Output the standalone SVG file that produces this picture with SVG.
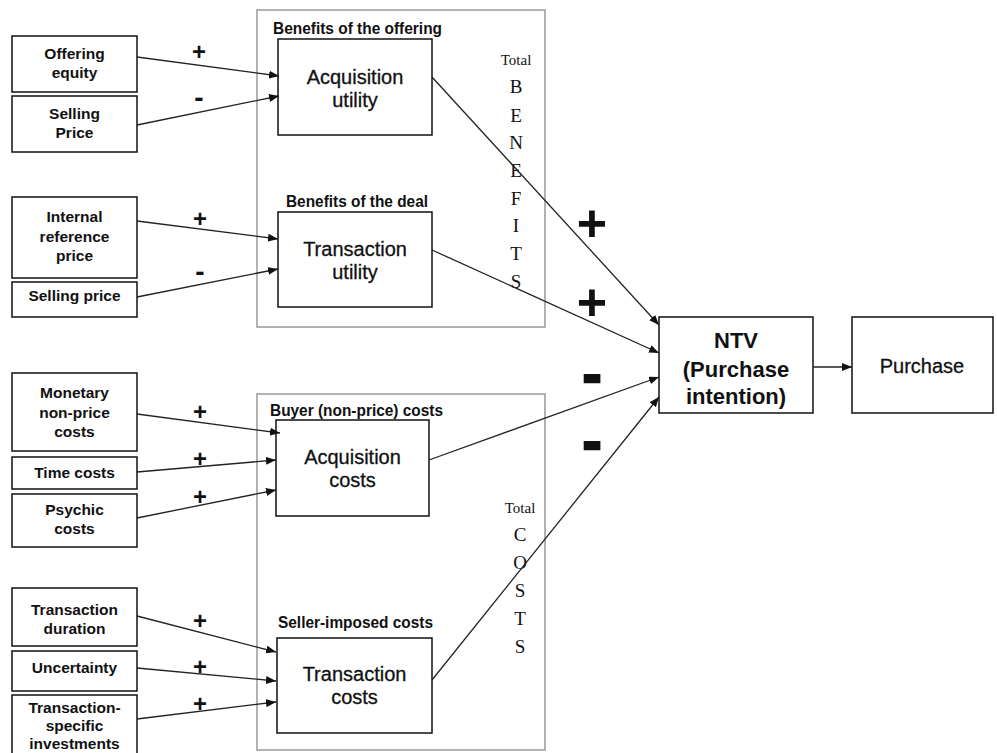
<svg xmlns="http://www.w3.org/2000/svg" width="997" height="753" viewBox="0 0 997 753">
<defs>
<marker id="ah" markerWidth="10" markerHeight="8" refX="10" refY="4" orient="auto" markerUnits="userSpaceOnUse">
<path d="M0,0 L10,4 L0,8 Z" fill="#111"/>
</marker>
<style>
.box{fill:#fff;stroke:#111;stroke-width:1.5}
.outer{fill:#fff;stroke:#999;stroke-width:1.5}
.lbl{font-family:"Liberation Sans",Arial,sans-serif;font-weight:bold;font-size:15.5px;text-anchor:middle;fill:#111}
.ttl{font-family:"Liberation Sans",Arial,sans-serif;font-weight:bold;font-size:16px;fill:#111}
.node{font-family:"Liberation Sans",Arial,sans-serif;font-size:20px;text-anchor:middle;fill:#111;stroke:#111;stroke-width:0.3}
.ntv{font-family:"Liberation Sans",Arial,sans-serif;font-weight:bold;font-size:22px;text-anchor:middle;fill:#111}
.ser{font-family:"Liberation Serif","Times New Roman",serif;text-anchor:middle;fill:#111}
.sgn{font-family:"Liberation Sans",Arial,sans-serif;font-weight:bold;text-anchor:middle;fill:#111}
.big{stroke:#111;stroke-width:2.5}
.con{stroke:#222;stroke-width:1.3;fill:none;marker-end:url(#ah)}
</style>
</defs>
<rect width="997" height="753" fill="#fff"/>

<g id="benefits-group">
<rect class="outer" x="257" y="10" width="288" height="317"/>
<text class="ttl" x="273" y="34" textLength="169" lengthAdjust="spacingAndGlyphs">Benefits of the offering</text>
<text class="ttl" x="286" y="207" textLength="142" lengthAdjust="spacingAndGlyphs">Benefits of the deal</text>
<text class="ser" x="516" y="65" font-size="15">Total</text>
<text class="ser" x="516" y="93" font-size="19">B</text>
<text class="ser" x="516" y="122" font-size="19">E</text>
<text class="ser" x="516" y="149" font-size="19">N</text>
<text class="ser" x="516" y="177" font-size="19">E</text>
<text class="ser" x="516" y="205" font-size="19">F</text>
<text class="ser" x="516" y="232" font-size="19">I</text>
<text class="ser" x="516" y="260" font-size="19">T</text>
<text class="ser" x="516" y="288" font-size="19">S</text>
</g>

<g id="costs-group">
<rect class="outer" x="257" y="394" width="288" height="356"/>
<text class="ttl" x="270" y="416" textLength="173" lengthAdjust="spacingAndGlyphs">Buyer (non-price) costs</text>
<text class="ttl" x="278" y="628" textLength="155" lengthAdjust="spacingAndGlyphs">Seller-imposed costs</text>
<text class="ser" x="520" y="513" font-size="15">Total</text>
<text class="ser" x="520" y="541" font-size="19">C</text>
<text class="ser" x="520" y="569" font-size="19">O</text>
<text class="ser" x="520" y="597" font-size="19">S</text>
<text class="ser" x="520" y="625" font-size="19">T</text>
<text class="ser" x="520" y="653" font-size="19">S</text>
</g>

<g id="offering-equity"><rect class="box" x="12" y="36" width="125" height="56"/>
<text class="lbl" x="74.5" y="59">Offering</text><text class="lbl" x="74.5" y="78">equity</text></g>
<g id="selling-price-1"><rect class="box" x="12" y="96" width="125" height="56"/>
<text class="lbl" x="74.5" y="119">Selling</text><text class="lbl" x="74.5" y="138">Price</text></g>
<g id="internal-reference-price"><rect class="box" x="12" y="197" width="125" height="81"/>
<text class="lbl" x="74.5" y="222">Internal</text><text class="lbl" x="74.5" y="242">reference</text><text class="lbl" x="74.5" y="261">price</text></g>
<g id="selling-price-2"><rect class="box" x="12" y="282" width="125" height="35"/>
<text class="lbl" x="74.5" y="301">Selling price</text></g>
<g id="monetary-costs"><rect class="box" x="12" y="373" width="125" height="78"/>
<text class="lbl" x="74.5" y="398">Monetary</text><text class="lbl" x="74.5" y="418">non-price</text><text class="lbl" x="74.5" y="437">costs</text></g>
<g id="time-costs"><rect class="box" x="12" y="457" width="125" height="32"/>
<text class="lbl" x="74.5" y="478">Time costs</text></g>
<g id="psychic-costs"><rect class="box" x="12" y="494" width="125" height="53"/>
<text class="lbl" x="74.5" y="515">Psychic</text><text class="lbl" x="74.5" y="534">costs</text></g>
<g id="transaction-duration"><rect class="box" x="12" y="588" width="125" height="58"/>
<text class="lbl" x="74.5" y="615">Transaction</text><text class="lbl" x="74.5" y="634">duration</text></g>
<g id="uncertainty"><rect class="box" x="12" y="651" width="125" height="40"/>
<text class="lbl" x="74.5" y="673">Uncertainty</text></g>
<g id="transaction-specific"><rect class="box" x="12" y="695" width="125" height="70"/>
<text class="lbl" x="74.5" y="713">Transaction-</text><text class="lbl" x="74.5" y="731">specific</text><text class="lbl" x="74.5" y="749">investments</text></g>

<g id="acquisition-utility"><rect class="box" x="278" y="39" width="154" height="96"/>
<text class="node" x="355" y="84">Acquisition</text><text class="node" x="355" y="107">utility</text></g>
<g id="transaction-utility"><rect class="box" x="278" y="212" width="154" height="95"/>
<text class="node" x="355" y="256">Transaction</text><text class="node" x="355" y="279">utility</text></g>
<g id="acquisition-costs"><rect class="box" x="276" y="420" width="153" height="96"/>
<text class="node" x="352.5" y="464">Acquisition</text><text class="node" x="352.5" y="487">costs</text></g>
<g id="transaction-costs"><rect class="box" x="277" y="638" width="155" height="95"/>
<text class="node" x="354.5" y="681">Transaction</text><text class="node" x="354.5" y="704">costs</text></g>

<g id="ntv"><rect class="box" x="659" y="317" width="154" height="96"/>
<text class="ntv" x="736" y="348" font-size="27">NTV</text><text class="ntv" x="736" y="377">(Purchase</text><text class="ntv" x="736" y="404">intention)</text></g>
<g id="purchase"><rect class="box" x="852" y="317" width="141" height="96"/>
<text class="node" x="922" y="373">Purchase</text></g>

<g id="connectors">
<line class="con" x1="137" y1="57" x2="279" y2="76"/>
<line class="con" x1="137" y1="125" x2="279" y2="96"/>
<line class="con" x1="137" y1="221" x2="278" y2="239"/>
<line class="con" x1="137" y1="297" x2="278" y2="269"/>
<line class="con" x1="137" y1="414" x2="280" y2="433"/>
<line class="con" x1="137" y1="472" x2="276" y2="460"/>
<line class="con" x1="137" y1="518" x2="276" y2="490"/>
<line class="con" x1="137" y1="616" x2="276" y2="652"/>
<line class="con" x1="137" y1="668" x2="276" y2="681"/>
<line class="con" x1="137" y1="719" x2="276" y2="702"/>
<line class="con" x1="432" y1="77" x2="659" y2="325"/>
<line class="con" x1="432" y1="250" x2="659" y2="353"/>
<line class="con" x1="429" y1="460" x2="659" y2="377"/>
<line class="con" x1="432" y1="680" x2="659" y2="397"/>
<line class="con" x1="813" y1="367" x2="852" y2="367"/>
</g>

<g id="signs">
<text class="sgn" x="199" y="60" font-size="24">+</text>
<text class="sgn" x="199" y="107" font-size="28">-</text>
<text class="sgn" x="200" y="227" font-size="24">+</text>
<text class="sgn" x="200" y="281" font-size="28">-</text>
<text class="sgn" x="200" y="420" font-size="24">+</text>
<text class="sgn" x="200" y="467" font-size="24">+</text>
<text class="sgn" x="200" y="505" font-size="24">+</text>
<text class="sgn" x="200" y="629" font-size="24">+</text>
<text class="sgn" x="200" y="675" font-size="24">+</text>
<text class="sgn" x="200" y="712" font-size="24">+</text>
<text class="sgn" x="592" y="241" font-size="52">+</text>
<text class="sgn" x="592" y="320" font-size="52">+</text>
<text class="sgn big" x="592" y="393" font-size="56">-</text>
<text class="sgn big" x="592" y="460" font-size="56">-</text>
</g>
</svg>
